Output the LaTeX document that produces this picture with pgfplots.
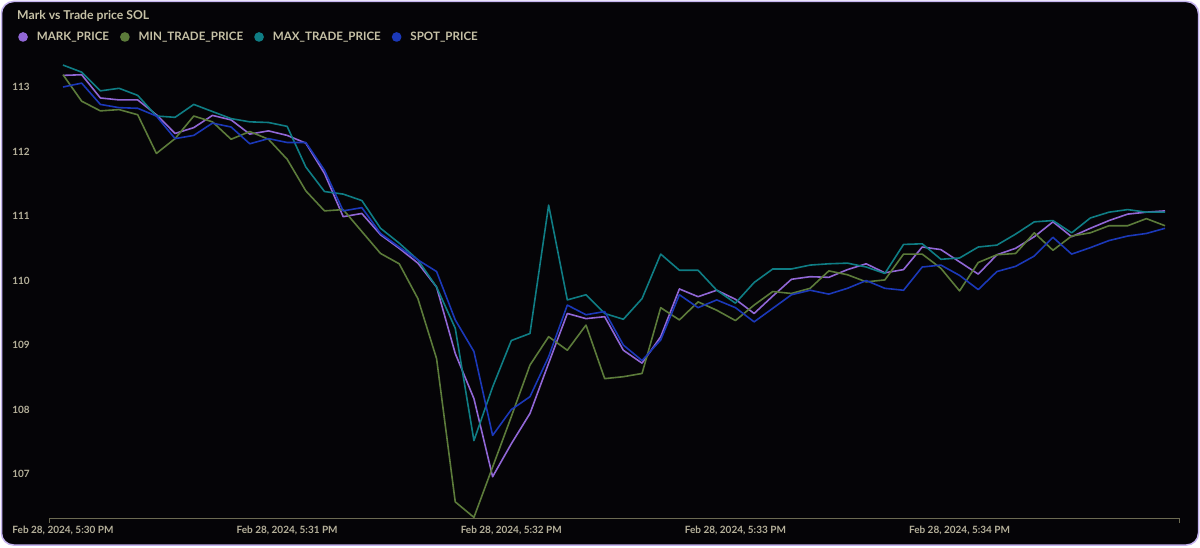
\documentclass[border=0pt]{standalone}
\usepackage{pgfplots}
\pgfplotsset{compat=1.18}
\usepackage{pgfplotstable}
\usepackage{fontspec}
\setmainfont{Lato}
\definecolor{cardbg}{HTML}{050407}
\definecolor{cardborder}{HTML}{C4B3EE}
\definecolor{markcol}{HTML}{9167D6}
\definecolor{mincol}{HTML}{5C7B3A}
\definecolor{maxcol}{HTML}{0F7D84}
\definecolor{spotcol}{HTML}{1B38B8}
\definecolor{titlecol}{HTML}{C6C1A6}
\definecolor{tickcol}{HTML}{B5B09A}
\definecolor{axiscol}{HTML}{6C6A52}

\pgfplotstableread{
i mark min max spot
0 113.18 113.19 113.34 113.00
1 113.19 112.78 113.23 113.06
2 112.83 112.63 112.94 112.73
3 112.80 112.65 112.98 112.68
4 112.80 112.57 112.87 112.67
5 112.57 111.97 112.55 112.55
6 112.28 112.20 112.53 112.20
7 112.37 112.55 112.73 112.25
8 112.56 112.46 112.62 112.44
9 112.49 112.19 112.51 112.38
10 112.27 112.31 112.46 112.12
11 112.32 112.19 112.45 112.20
12 112.25 111.88 112.39 112.14
13 112.13 111.39 111.76 112.14
14 111.66 111.08 111.38 111.71
15 110.99 111.10 111.34 111.08
16 111.04 110.76 111.24 111.13
17 110.71 110.42 110.81 110.73
18 110.50 110.26 110.58 110.52
19 110.27 109.72 110.32 110.32
20 109.90 108.79 109.90 110.14
21 108.87 106.57 109.26 109.39
22 108.17 106.33 107.52 108.90
23 106.96 107.11 108.35 107.60
24 107.47 107.89 109.07 108.00
25 107.94 108.69 109.18 108.20
26 108.72 109.13 111.17 108.82
27 109.49 108.92 109.70 109.62
28 109.41 109.31 109.78 109.47
29 109.44 108.48 109.49 109.52
30 108.92 108.51 109.40 109.00
31 108.72 108.56 109.72 108.76
32 109.13 109.58 110.41 109.08
33 109.87 109.39 110.16 109.78
34 109.75 109.67 110.16 109.58
35 109.85 109.54 109.85 109.70
36 109.71 109.38 109.65 109.58
37 109.49 109.62 109.97 109.36
38 109.76 109.83 110.18 109.57
39 110.02 109.80 110.18 109.78
40 110.06 109.88 110.24 109.85
41 110.05 110.15 110.26 109.79
42 110.17 110.09 110.27 109.88
43 110.26 109.98 110.21 110.00
44 110.12 110.01 110.11 109.88
45 110.17 110.41 110.56 109.85
46 110.52 110.41 110.57 110.21
47 110.48 110.19 110.33 110.24
48 110.29 109.84 110.35 110.08
49 110.10 110.28 110.52 109.86
50 110.40 110.40 110.55 110.14
51 110.50 110.42 110.72 110.22
52 110.68 110.74 110.91 110.38
53 110.91 110.47 110.93 110.67
54 110.68 110.69 110.74 110.41
55 110.81 110.74 110.97 110.51
56 110.93 110.85 111.06 110.62
57 111.03 110.85 111.10 110.69
58 111.06 110.96 111.06 110.73
59 111.08 110.85 111.06 110.81
}\data

\begin{document}
\begin{tikzpicture}[x=1pt,y=1pt]
\useasboundingbox (0,0) rectangle (1200,547);
\fill[white] (0,0) rectangle (1200,547);
\draw[cardborder, line width=1.5pt, fill=cardbg, rounded corners=12pt] (1.5,2) rectangle (1198.5,545.5);
\node[anchor=west, text=titlecol, font=\fontsize{12.2}{14}\selectfont\bfseries, inner sep=0pt] at (17,531) {Mark vs Trade price SOL};
\begin{axis}[
  at={(49pt,29pt)}, anchor=south west,
  width=1130pt, height=456.8pt, scale only axis,
  xmin=-0.75, xmax=59.75, ymin=106.32, ymax=113.4,
  axis x line*=bottom, axis y line*=left,
  axis line style={-},
  y axis line style={draw=none},
  x axis line style={draw=axiscol, line width=0.8pt},
  xtick={0,12,24,36,48},
  xticklabels={{Feb 28, 2024, 5:30 PM},{Feb 28, 2024, 5:31 PM},{Feb 28, 2024, 5:32 PM},{Feb 28, 2024, 5:33 PM},{Feb 28, 2024, 5:34 PM}},
  ytick={107,108,109,110,111,112,113},
  major tick length=0pt, tick style={draw=none},
  extra x ticks={-0.75,59.75},
  extra x tick labels={},
  extra x tick style={major tick length=5pt, tick align=outside, tick style={draw=axiscol, line width=0.8pt}},
  /pgf/number format/assume math mode=true,
  ticklabel style={text=tickcol, font=\fontsize{10}{12}\selectfont\bfseries},
  yticklabel style={anchor=east, inner sep=0pt, xshift=-19pt},
  xticklabel style={anchor=north, inner sep=0pt, yshift=-8pt},
  clip=false,
  every axis plot/.append style={line width=1.6pt, line join=round, mark=none},
  legend columns=-1,
  legend image code/.code={\fill[#1] (4pt,0pt) circle (4pt);},
  legend style={at={(-0.0274,1.053)}, anchor=west, draw=none, fill=none, inner sep=0pt,
    nodes={inner sep=0pt, text=titlecol, font=\fontsize{11.6}{13}\selectfont\bfseries},
    /tikz/every odd column/.append style={column sep=9pt},
    /tikz/every even column/.append style={column sep=11pt}},
]
\addplot[markcol] table[x=i, y=mark] {\data};
\addlegendentry{MARK\_PRICE}
\addplot[mincol] table[x=i, y=min] {\data};
\addlegendentry{MIN\_TRADE\_PRICE}
\addplot[maxcol] table[x=i, y=max] {\data};
\addlegendentry{MAX\_TRADE\_PRICE}
\addplot[spotcol] table[x=i, y=spot] {\data};
\addlegendentry{SPOT\_PRICE}
\end{axis}
\end{tikzpicture}
\end{document}
